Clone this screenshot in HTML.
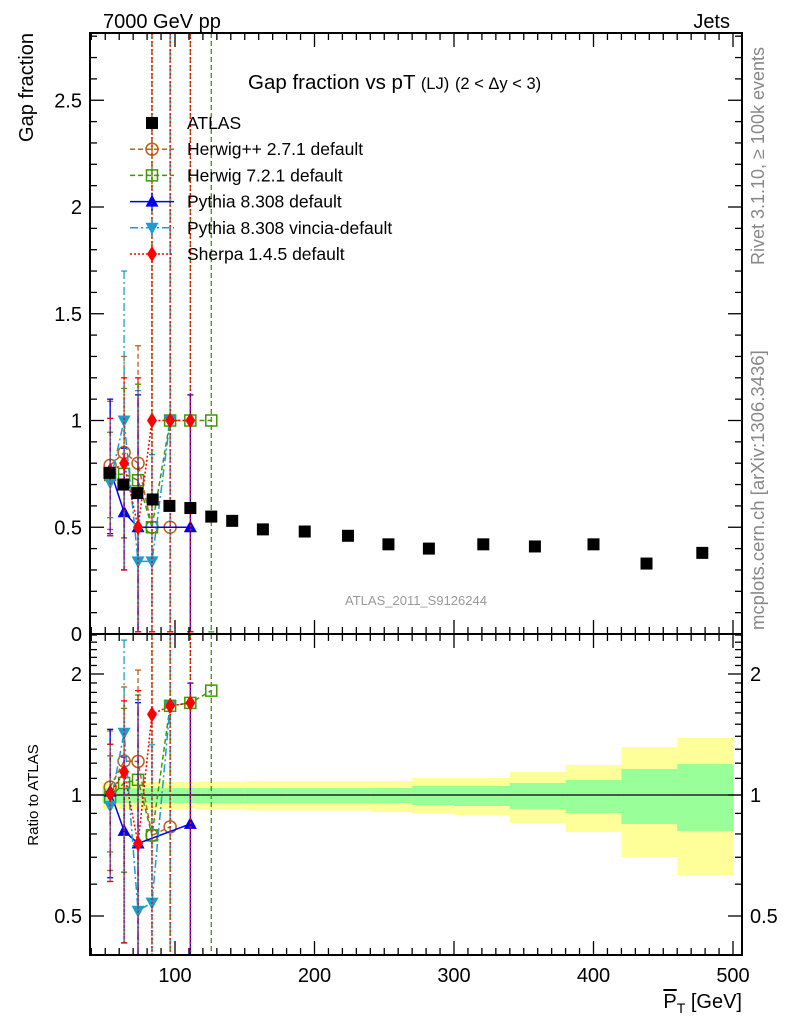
<!DOCTYPE html>
<html><head><meta charset="utf-8"><style>
html,body{margin:0;background:#fff;overflow:hidden;width:786px;height:1024px}
svg{display:block;position:absolute;left:0;top:0;font-family:"Liberation Sans",sans-serif}
</style></head><body>
<svg id="c" width="786" height="1024" viewBox="0 0 786 1024" overflow="hidden" xmlns="http://www.w3.org/2000/svg">
<defs>
<clipPath id="cm"><rect x="90" y="33" width="652" height="601"/></clipPath>
<clipPath id="cr"><rect x="90" y="634" width="652" height="321"/></clipPath>
</defs>
<g id="bands" clip-path="url(#cr)"></g>
<line x1="90" x2="742" y1="795" y2="795" stroke="#000" stroke-width="1.2"/>
<g id="gm" clip-path="url(#cm)"></g>
<g id="gr" clip-path="url(#cr)"></g>
<g id="axes"></g>
<rect x="90" y="33" width="652" height="601" fill="none" stroke="#000" stroke-width="2"/>
<rect x="90" y="634" width="652" height="321" fill="none" stroke="#000" stroke-width="2"/>
<text x="103" y="28" font-size="20">7000 GeV pp</text>
<text x="730" y="28" font-size="20" text-anchor="end">Jets</text>
<text transform="translate(33,33) rotate(-90)" font-size="20" text-anchor="end">Gap fraction</text>
<text x="248" y="89" font-size="20.5">Gap fraction vs pT <tspan font-size="16.5">(LJ)</tspan> <tspan font-size="16.5">(2 &lt; Δy &lt; 3)</tspan></text>
<text x="416" y="605" font-size="13" fill="#999" text-anchor="middle">ATLAS_2011_S9126244</text>
<text transform="translate(764,265) rotate(-90)" font-size="18" fill="#888">Rivet 3.1.10, ≥ 100k events</text>
<text transform="translate(764,630) rotate(-90)" font-size="18.5" fill="#888">mcplots.cern.ch [arXiv:1306.3436]</text>
<text transform="translate(38,795) rotate(-90)" font-size="15" text-anchor="middle">Ratio to ATLAS</text>
<text x="742" y="1008" font-size="20" text-anchor="end"><tspan text-decoration="overline">P</tspan><tspan font-size="14" dy="5">T</tspan><tspan dy="-5"> [GeV]</tspan></text>
<g id="legend"></g>
</svg>
<script>
const atlasX=[53,63,73,84,96,111,126,141,163,193,224,253,282,321,358,400,438,478];
const atlasY=[0.755,0.70,0.66,0.63,0.60,0.59,0.55,0.53,0.49,0.48,0.46,0.42,0.40,0.42,0.41,0.42,0.33,0.38];
const mcX=[53.5,63.5,73.5,83.5,96.5,111,126];
const hppY=[0.79,0.85,0.80,0.50,0.50,null,null];
const hppUp=[0.3,0.45,0.55,2.5,2.5,null,null];
const hppDn=[0.3,0.4,0.8,0.5,0.5,null,null];
const h7Y=[0.745,0.75,0.72,0.50,1.0,1.0,1.0];
const h7Up=[0.2,0.4,0.45,2.5,2.5,2.5,2.5];
const h7Dn=[0.2,0.3,0.72,0.5,1,1,1];
const pyY=[0.77,0.57,0.50,null,null,0.50,null];
const pyUp=[0.33,0.3,0.62,null,null,0.62,null];
const pyDn=[0.3,0.27,0.5,null,null,0.5,null];
const vinY=[0.71,1.0,0.34,0.34,1.0,null,null];
const vinUp=[0.3,0.7,0.8,0.5,2.5,null,null];
const vinDn=[0.25,0.7,0.34,0.34,1,null,null];
const shY=[0.76,0.80,0.50,1.0,1.0,1.0,null];
const shUp=[0.25,0.4,0.7,2.5,2.5,2.5,null];
const shDn=[0.3,0.5,0.5,1,1,1,null];
const binEdges=[48,58,68,78,88,105,118,135,150,180,210,240,270,300,340,380,420,460,500];
const yelHi=[1.077,1.077,1.077,1.077,1.077,1.077,1.08,1.08,1.083,1.083,1.083,1.083,1.102,1.102,1.141,1.188,1.316,1.386];
const yelLo=[0.923,0.923,0.923,0.923,0.923,0.923,0.92,0.92,0.915,0.915,0.915,0.907,0.897,0.892,0.852,0.809,0.701,0.632];
const grnHi=[1.04,1.04,1.04,1.04,1.04,1.04,1.04,1.04,1.04,1.04,1.04,1.041,1.053,1.053,1.071,1.090,1.161,1.194];
const grnLo=[0.955,0.955,0.955,0.955,0.955,0.955,0.955,0.955,0.955,0.955,0.955,0.955,0.944,0.939,0.923,0.902,0.847,0.814];
const xTicks=[100,200,300,400,500];
const yTicks=[0.5,1,1.5,2,2.5];
const rTicks=[0.5,1,2];

const NS="http://www.w3.org/2000/svg";
const X=v=>35.5+1.395*v, Y=v=>634-213.5*v, R=r=>795-121*Math.log2(r);
const clamp=(v,a,b)=>Math.max(a,Math.min(b,v));
function mk(tag,at,par){const e=document.createElementNS(NS,tag);for(const k in at)e.setAttribute(k,at[k]);par.appendChild(e);return e;}
const gm=document.getElementById('gm'),gr=document.getElementById('gr'),ax=document.getElementById('axes'),bd=document.getElementById('bands'),lg=document.getElementById('legend');

for(let i=0;i<yelHi.length;i++){
  const x0=X(binEdges[i]),x1=Math.min(X(binEdges[i+1]),742);
  const y=mk('rect',{x:x0,y:R(yelHi[i]),width:x1-x0+0.5,height:R(yelLo[i])-R(yelHi[i]),fill:'#ffff99'},bd);
  
  
  const g=mk('rect',{x:x0,y:R(grnHi[i]),width:x1-x0+0.5,height:R(grnLo[i])-R(grnHi[i]),fill:'#99ff99'},bd);
  
  
}

function marker(par,kind,cx,cy,col,name){
  let e;const s=6;
  if(kind==='sq')e=mk('rect',{x:cx-s,y:cy-s,width:2*s,height:2*s,fill:col},par);
  else if(kind==='osq')e=mk('rect',{x:cx-5.5,y:cy-5.5,width:11,height:11,fill:'none',stroke:col,'stroke-width':1.5},par);
  else if(kind==='oc')e=mk('circle',{cx:cx,cy:cy,r:6,fill:'none',stroke:col,'stroke-width':1.5},par);
  else if(kind==='tu')e=mk('polygon',{points:`${cx},${cy-7} ${cx-6.5},${cy+5} ${cx+6.5},${cy+5}`,fill:col},par);
  else if(kind==='td')e=mk('polygon',{points:`${cx},${cy+7} ${cx-6.5},${cy-5} ${cx+6.5},${cy-5}`,fill:col},par);
  else e=mk('polygon',{points:`${cx},${cy-8} ${cx-5},${cy} ${cx},${cy+8} ${cx+5},${cy}`,fill:col},par);
  
  
}

const series=[
 {n:'herwig-pp',lab:'Herwig++ 2.7.1 default',y:hppY,u:hppUp,d:hppDn,col:'#c0601a',dash:'5,3',m:'oc'},
 {n:'herwig7',lab:'Herwig 7.2.1 default',y:h7Y,u:h7Up,d:h7Dn,col:'#3a9a00',dash:'5,3',m:'osq'},
 {n:'pythia',lab:'Pythia 8.308 default',y:pyY,u:pyUp,d:pyDn,col:'#0000ee',dash:'',m:'tu'},
 {n:'vincia',lab:'Pythia 8.308 vincia-default',y:vinY,u:vinUp,d:vinDn,col:'#1a9ecf',dash:'8,3,2,3',m:'td'},
 {n:'sherpa',lab:'Sherpa 1.4.5 default',y:shY,u:shUp,d:shDn,col:'#ff0000',dash:'2,2',m:'dm'}
];

function drawSeries(par,s,fy,ratio,top,bot){
  const pts=[];
  for(let i=0;i<mcX.length;i++){
    if(s.y[i]==null)continue;
    const a=ratio?atlasY[i]:1;
    const cx=X(mcX[i]),cy=fy(s.y[i]/a);
    const hi=clamp(fy(Math.max((s.y[i]+s.u[i])/a,0.01)),top,bot),lo=clamp(fy(Math.max((s.y[i]-s.d[i])/a,0.01)),top,bot);
    const e=mk('line',{x1:cx,x2:cx,y1:hi,y2:lo,stroke:s.col,'stroke-width':1.3,'stroke-dasharray':s.dash},par);
    
    
    mk('line',{x1:cx-3,x2:cx+3,y1:hi,y2:hi,stroke:s.col,'stroke-width':1.3},par);
    mk('line',{x1:cx-3,x2:cx+3,y1:lo,y2:lo,stroke:s.col,'stroke-width':1.3},par);
    pts.push([cx,cy]);
  }
  const l=mk('polyline',{points:pts.map(p=>p.join(',')).join(' '),fill:'none',stroke:s.col,'stroke-width':1.5,'stroke-dasharray':s.dash},par);
  
  
  pts.forEach(p=>marker(par,s.m,p[0],p[1],s.col,s.n+'-marker'));
}
series.forEach(s=>{drawSeries(gm,s,Y,false,33,634);drawSeries(gr,s,R,true,634,955);});
for(let i=0;i<atlasX.length;i++){
  marker(gm,'sq',X(atlasX[i]),Y(atlasY[i]),'#000','atlas-data-point');
}

for(let v=40;v<=500;v+=10){
  const x=X(v);if(x<91||x>741)continue;const L=v%100===0?14:7;
  [[634,-1],[955,-1],[33,1],[634,1]].forEach(([y0,d])=>mk('line',{x1:x,x2:x,y1:y0,y2:y0+d*L,stroke:'#000','stroke-width':1.3},ax));
}
xTicks.forEach(v=>{const t=mk('text',{x:X(v),y:982,'font-size':20,'text-anchor':'middle'},ax);t.textContent=v;
 });
for(let k=1;k<=28;k++){const v=k/10,y=Y(v);const L=k%5===0?14:7;
 mk('line',{x1:90,x2:90+L,y1:y,y2:y,stroke:'#000','stroke-width':1.3},ax);
 mk('line',{x1:742,x2:742-L,y1:y,y2:y,stroke:'#000','stroke-width':1.3},ax);}
[0].concat(yTicks).forEach(v=>{const t=mk('text',{x:82,y:Y(v)+7,'font-size':20,'text-anchor':'end'},ax);t.textContent=v;
 });
const rminor=[0.4,0.5,0.6,0.7,0.8,0.9,1,1.1,1.2,1.3,1.4,1.5,1.6,1.7,1.8,1.9,2,2.1,2.2,2.3,2.4,2.5];
rminor.forEach(v=>{const y=R(v);if(y<635||y>954)return;const L=rTicks.includes(v)?14:7;
 mk('line',{x1:90,x2:90+L,y1:y,y2:y,stroke:'#000','stroke-width':1.3},ax);
 mk('line',{x1:742,x2:742-L,y1:y,y2:y,stroke:'#000','stroke-width':1.3},ax);});
rTicks.forEach(v=>{
 const t=mk('text',{x:82,y:R(v)+7,'font-size':20,'text-anchor':'end'},ax);t.textContent=v;
 
 const t2=mk('text',{x:750,y:R(v)+7,'font-size':20},ax);t2.textContent=v;
 });

const ly0=123,ldy=26.2;
marker(lg,'sq',152,ly0,'#000','legend-atlas-marker');
let t=mk('text',{x:187,y:ly0+6,'font-size':17.5},lg);t.textContent='ATLAS';

series.forEach((s,i)=>{const y=ly0+ldy*(i+1);
 mk('line',{x1:130,x2:174,y1:y,y2:y,stroke:s.col,'stroke-width':1.5,'stroke-dasharray':s.dash},lg);
 mk('line',{x1:152,x2:152,y1:y-9,y2:y+9,stroke:s.col,'stroke-width':1.3,'stroke-dasharray':s.dash},lg);
 marker(lg,s.m,152,y,s.col,'legend-'+s.n+'-marker');
 const tt=mk('text',{x:187,y:y+6,'font-size':17.5},lg);tt.textContent=s.lab;
 });
</script>
</body></html>
